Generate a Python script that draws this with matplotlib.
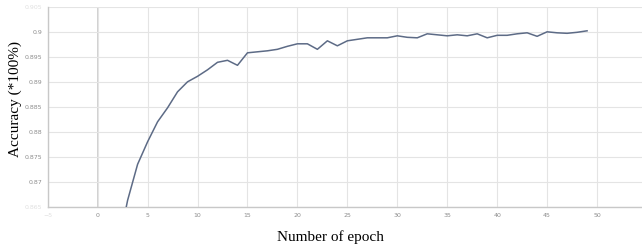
import matplotlib.pyplot as plt
import numpy as np

# accuracy per epoch (epochs 0-2 fall below the axis)
epochs = np.arange(50)
accuracy = [0.810, 0.840, 0.8566, 0.8664, 0.8736, 0.8781, 0.8821, 0.8849, 0.8881, 0.8901,
            0.8912, 0.8925, 0.8940, 0.8944, 0.8934, 0.8959, 0.8961, 0.8963, 0.8966, 0.8972,
            0.8977, 0.8977, 0.8966, 0.8983, 0.8973, 0.8983, 0.8986, 0.8989, 0.8989, 0.8989,
            0.8993, 0.8990, 0.8989, 0.8997, 0.8995, 0.8993, 0.8995, 0.8993, 0.8997, 0.8989,
            0.8994, 0.8994, 0.8997, 0.8999, 0.8992, 0.9001, 0.8999, 0.8998, 0.9000, 0.9003]

xticks = np.arange(-5, 55, 5)
yticks = [0.865, 0.87, 0.875, 0.88, 0.885, 0.89, 0.895, 0.9, 0.905]
ytick_labels = ['0.865', '0.87', '0.875', '0.88', '0.885', '0.89', '0.895', '0.9', '0.905']

W, H = 642, 247
fig = plt.figure(figsize=(W / 100, H / 100), dpi=100)
ax = fig.add_axes([0.0743, 0.1607, 0.9257, 0.8097])

ax.plot(epochs, accuracy, color='#5d6b86', lw=1.1, zorder=3)

ax.set_xlim(-5, 54.5)
ax.set_ylim(0.865, 0.905)
ax.set_xticks(xticks)
ax.set_yticks(yticks)
ax.set_yticklabels(ytick_labels)

ax.grid(True, color='#e4e4e4', lw=0.8)
ax.axvline(0, color='#c4c4c4', lw=1.1, zorder=1)
ax.tick_params(length=0, labelsize=4.5, labelcolor='#8c8c8c', pad=4)

# the extreme tick labels are faded in the reference
for lab in [ax.get_xticklabels()[0], ax.get_yticklabels()[0], ax.get_yticklabels()[-1]]:
    lab.set_color('#e0e0e0')

for side in ['top', 'right']:
    ax.spines[side].set_visible(False)
for side in ['left', 'bottom']:
    ax.spines[side].set_color('#c8c8c8')
    ax.spines[side].set_linewidth(1.0)

# axis titles placed in pixels of the figure
fig.text(330 / W, 1 - 237 / H, 'Number of epoch', family='Liberation Serif',
         fontsize=11, ha='center', va='center')
fig.text(15.5 / W, 1 - 99 / H, 'Accuracy (*100%)', family='Liberation Serif',
         fontsize=11, ha='center', va='center', rotation=90)

fig.savefig('out.png', dpi=100)
